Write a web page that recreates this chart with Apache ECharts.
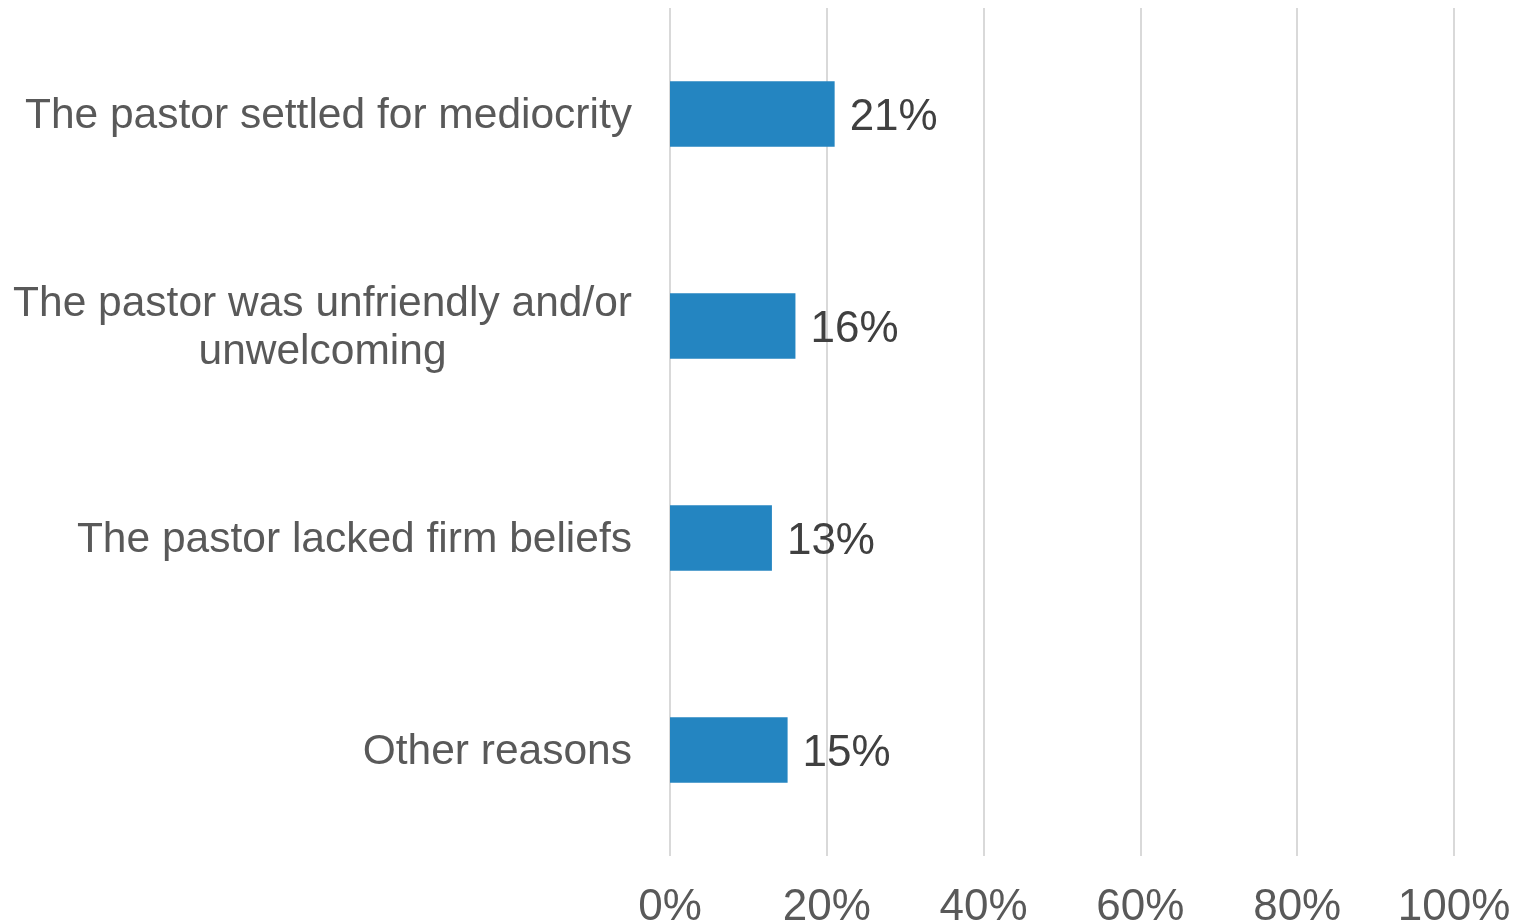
<!DOCTYPE html>
<html>
<head>
<meta charset="utf-8">
<style>
  html, body { margin: 0; padding: 0; background: #fff; }
  #chart { width: 1518px; height: 924px; }
</style>
<script src="https://cdn.jsdelivr.net/npm/echarts@6/dist/echarts.min.js"></script>
</head>
<body>
<div id="chart"></div>
<script>
// categories, top to bottom
const reasons = [
  'The pastor settled for mediocrity',
  'The pastor was unfriendly and/or unwelcoming',
  'The pastor lacked firm beliefs',
  'Other reasons'
]
// share of respondents, percent
const shares = [21, 16, 13, 15]
const xTicks = [0, 20, 40, 60, 80, 100]

const chart = echarts.init(document.getElementById('chart'))

// split long labels into lines, each centred inside the label block
function wrapLabel(text) {
  const maxChars = 34
  const words = text.split(' ')
  const lines = []
  let cur = ''
  words.forEach(w => {
    if (cur && (cur + ' ' + w).length > maxChars) {
      lines.push(cur)
      cur = w
    } else {
      cur = cur ? cur + ' ' + w : w
    }
  })
  if (cur) lines.push(cur)
  return lines.map(l => '{c|' + l + '}').join('\n')
}

const options = {
  animation: false,
  grid: {
    left: 670,
    right: 64,
    top: 8,
    bottom: 68,
    containLabel: false,
    outerBoundsMode: 'none'
  },
  xAxis: {
    type: 'value',
    min: xTicks[0],
    max: xTicks[xTicks.length - 1],
    interval: 20,
    axisLine: { show: false },
    axisTick: { show: false },
    splitLine: { lineStyle: { color: '#d9d9d9', width: 2 } },
    axisLabel: {
      formatter: '{value}%',
      fontFamily: 'Liberation Sans, Arial, sans-serif',
      fontSize: 44,
      color: '#595959',
      margin: 30
    }
  },
  yAxis: {
    type: 'category',
    inverse: true,
    data: reasons,
    axisLine: { show: false },
    axisTick: { show: false },
    axisLabel: {
      margin: 38,
      padding: [4, 0, 0, 0],
      formatter: wrapLabel,
      rich: {
        c: {
          align: 'center',
          fontFamily: 'Liberation Sans, Arial, sans-serif',
          fontSize: 42.5,
          lineHeight: 48,
          color: '#595959'
        }
      }
    }
  },
  series: [{
    type: 'bar',
    data: shares,
    barWidth: '31%',
    itemStyle: { color: '#2485c1' },
    label: {
      show: true,
      position: 'right',
      distance: 15,
      offset: [0, 4],
      formatter: '{c}%',
      fontFamily: 'Liberation Sans, Arial, sans-serif',
      fontSize: 44,
      color: '#404040'
    }
  }]
}
chart.setOption(options)
</script>
</body>
</html>
